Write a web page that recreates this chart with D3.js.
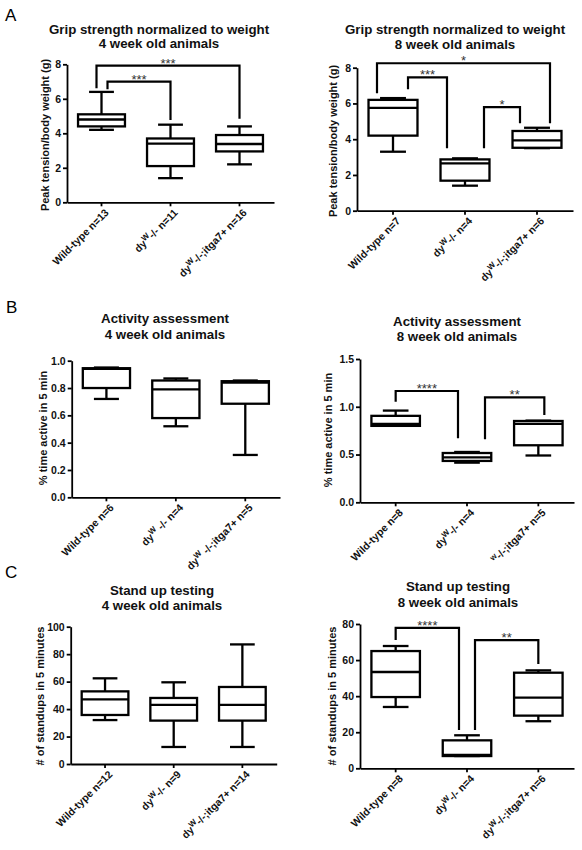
<!DOCTYPE html>
<html>
<head>
<meta charset="utf-8">
<script src="https://cdn.jsdelivr.net/npm/d3@7"></script>
<style>
  html, body { margin: 0; padding: 0; background: #fff; }
  svg { display: block; }
</style>
</head>
<body>
<svg id="chart" width="582" height="850"></svg>
<script>
// ---------------- DATA ----------------
// five-number summaries per group: [min, Q1, median, Q3, max]
const gripWk4Labels = ["Wild-type n=13", "dy^W^-/- n=11", "dy^W^-/-;itga7+ n=16"];
const gripWk4 = [[4.2, 4.4, 4.8, 5.1, 6.4], [1.4, 2.1, 3.4, 3.7, 4.5], [2.2, 2.95, 3.38, 3.9, 4.4]];
const gripWk4Sig = [
  { from: 0, to: 2, y: 7.92, yFrom: 6.61, yTo: 4.85, label: "***" },
  { from: 0, to: 1, y: 6.99, yFrom: 6.55, yTo: 4.77, label: "***" }
];

const gripWk8Labels = ["Wild-type n=7", "dy^W^-/- n=4", "dy^W^-/-;itga7+ n=6"];
const gripWk8 = [[3.3, 4.2, 5.75, 6.2, 6.3], [1.4, 1.68, 2.65, 2.87, 2.93], [3.5, 3.52, 3.93, 4.46, 4.64]];
const gripWk8Sig = [
  { from: 0, to: 2, y: 8.25, yFrom: 6.57, yTo: 4.89, label: "*" },
  { from: 0, to: 1, y: 7.46, yFrom: 6.79, yTo: 3.49, label: "***" },
  { from: 1, to: 2, y: 5.80, yFrom: 3.49, yTo: 4.89, label: "*" }
];
const gripTicks = [0, 2, 4, 6, 8];

const activityWk4Labels = ["Wild-type n=6", "dy^W^ -/- n=4", "dy^W^ -/-;itga7+ n=5"];
const activityWk4 = [[0.72, 0.80, 0.94, 0.945, 0.95], [0.52, 0.58, 0.79, 0.855, 0.87], [0.31, 0.685, 0.84, 0.85, 0.855]];
const activityWk4Ticks = [0, 0.2, 0.4, 0.6, 0.8, 1.0];

const activityWk8Labels = ["Wild-type n=8", "dy^W^-/- n=4", "^w^-/-;itga7+ n=5"];
const activityWk8 = [[0.80, 0.80, 0.82, 0.905, 0.96], [0.415, 0.433, 0.471, 0.516, 0.527], [0.49, 0.597, 0.82, 0.851, 0.855]];
const activityWk8Ticks = [0, 0.5, 1.0, 1.5];
const activityWk8Sig = [
  { from: 0, to: 1, y: 1.165, yFrom: 1.053, yTo: 0.67, label: "****" },
  { from: 1, to: 2, y: 1.099, yFrom: 0.66, yTo: 0.914, label: "**" }
];

const standWk4Labels = ["Wild-type n=12", "dy^W^-/- n=9", "dy^W^-/-;itga7+ n=14"];
const standWk4 = [[32.0, 35.7, 47.1, 52.9, 62.4], [12.4, 31.6, 43.0, 48.1, 59.5], [12.4, 31.6, 43.0, 56.1, 87.1]];
const standWk4Ticks = [0, 20, 40, 60, 80, 100];

const standWk8Labels = ["Wild-type n=8", "dy^W^-/- n=4", "dy^W^-/-;itga7+ n=6"];
const standWk8 = [[34.0, 39.5, 53.4, 65.0, 67.8], [6.8, 6.8, 7.4, 15.5, 18.3], [26.1, 29.2, 39.2, 53.0, 54.3]];
const standWk8Ticks = [0, 20, 40, 60, 80];
const standWk8Sig = [
  { from: 0, to: 1, y: 77.8, yFrom: 71.1, yTo: 21.2, label: "****" },
  { from: 1, to: 2, y: 71.1, yFrom: 21.2, yTo: 57.8, label: "**" }
];

// ---------------- LAYOUT / STYLE ----------------
const FONT = "'Liberation Sans', Arial, Helvetica, sans-serif";
const panels = [
  { letter: "A", letterPos: [5, 21],
    title: ["Grip strength normalized to weight", "4 week old animals"], yLabel: "Peak tension/body weight (g)",
    data: gripWk4, labels: gripWk4Labels, ticks: gripTicks, fmt: d3.format("d"), sig: gripWk4Sig,
    x0: 67, x1: 274, yTop: 64.3, yBot: 202.3, titleX: 159, titleY: [33.5, 48], ylabX: 45, ylabY: 135,
    legDx: [[-5, 0], [6, 0]] },
  { title: ["Grip strength normalized to weight", "8 week old animals"], yLabel: "Peak tension/body weight (g)",
    data: gripWk8, labels: gripWk8Labels, ticks: gripTicks, fmt: d3.format("d"), sig: gripWk8Sig,
    x0: 357, x1: 573, yTop: 67.7, yBot: 210.7, titleX: 455, titleY: [33.5, 48.5], ylabX: 333, ylabY: 141,
    legDx: [[-16, 13], [15, -18], [19, -17]] },
  { letter: "B", letterPos: [6, 313],
    title: ["Activity assessment", "4 week old animals"], yLabel: "% time active in 5 min",
    data: activityWk4, labels: activityWk4Labels, ticks: activityWk4Ticks, fmt: d3.format(".1f"), sig: [],
    x0: 71.7, x1: 280, yTop: 360.7, yBot: 497.3, titleX: 165, titleY: [322.5, 338.5], ylabX: 43, ylabY: 428, legDx: [] },
  { title: ["Activity assessment", "8 week old animals"], yLabel: "% time active in 5 min",
    data: activityWk8, labels: activityWk8Labels, ticks: activityWk8Ticks, fmt: d3.format(".1f"), sig: activityWk8Sig,
    x0: 360, x1: 574, yTop: 359, yBot: 502.3, titleX: 457, titleY: [325.5, 340.5], ylabX: 328, ylabY: 430,
    legDx: [[0, -9], [18, 6]] },
  { letter: "C", letterPos: [5, 578],
    title: ["Stand up testing", "4 week old animals"], yLabel: "# of standups in 5 minutes",
    data: standWk4, labels: standWk4Labels, ticks: standWk4Ticks, fmt: d3.format("d"), sig: [],
    x0: 70.7, x1: 276.7, yTop: 626.7, yBot: 764, titleX: 162, titleY: [594.5, 609.5], ylabX: 40, ylabY: 696, legDx: [] },
  { title: ["Stand up testing", "8 week old animals"], yLabel: "# of standups in 5 minutes",
    data: standWk8, labels: standWk8Labels, ticks: standWk8Ticks, fmt: d3.format("d"), sig: standWk8Sig,
    x0: 360, x1: 574, yTop: 624, yBot: 768.3, titleX: 458, titleY: [590.5, 606.5], ylabX: 332, ylabY: 696,
    legDx: [[0, -8], [8, 0]] }
];

const svg = d3.select("#chart");
svg.append("rect").attr("width", 582).attr("height", 850).attr("fill", "#fff");

function addLabelText(sel, str) {
  // "^X^" marks superscript
  const parts = str.split("^");
  parts.forEach((p, i) => {
    if (p === "") return;
    const sup = i % 2 === 1;
    const prevSup = i > 0 && (i - 1) % 2 === 1;
    const t = sel.append("tspan").text(p);
    if (sup) t.attr("dy", -4).attr("font-size", 8);
    else if (prevSup && parts[i - 1] !== "") t.attr("dy", 4);
  });
}

panels.forEach(P => {
  const g = svg.append("g");
  const n = P.data.length;
  const yMax = P.ticks[P.ticks.length - 1];
  const x = d3.scaleBand().domain(d3.range(n)).range([P.x0, P.x1]).padding(0);
  const y = d3.scaleLinear().domain([0, yMax]).range([P.yBot, P.yTop]);
  const cx = i => x(i) + x.bandwidth() / 2;
  const boxW = x.bandwidth() * 0.68;
  const capW = x.bandwidth() * 0.36;

  if (P.letter) {
    svg.append("text").attr("x", P.letterPos[0]).attr("y", P.letterPos[1])
      .attr("font-family", FONT).attr("font-size", 17).attr("fill", "#000").text(P.letter);
  }

  // title
  P.title.forEach((t, i) => {
    g.append("text").attr("x", P.titleX).attr("y", P.titleY[i]).attr("text-anchor", "middle")
      .attr("font-family", FONT).attr("font-weight", "bold").attr("font-size", 13.3).attr("fill", "#111").text(t);
  });

  // y label
  g.append("text").attr("transform", `translate(${P.ylabX},${P.ylabY}) rotate(-90)`)
    .attr("text-anchor", "middle").attr("dy", "0.35em")
    .attr("font-family", FONT).attr("font-weight", "bold").attr("font-size", 11).attr("fill", "#111").text(P.yLabel);

  // y axis
  const ya = g.append("g").attr("transform", `translate(${P.x0},0)`)
    .call(d3.axisLeft(y).tickValues(P.ticks).tickFormat(P.fmt).tickSize(4).tickSizeOuter(0).tickPadding(2));
  ya.select(".domain").attr("stroke", "#000").attr("stroke-width", 1.8);
  ya.selectAll(".tick line").attr("stroke", "#000").attr("stroke-width", 1.8);
  ya.selectAll(".tick text").attr("font-family", FONT).attr("font-weight", "bold").attr("font-size", 10.5).attr("fill", "#111");

  // x axis
  const xa = g.append("g").attr("transform", `translate(0,${P.yBot})`)
    .call(d3.axisBottom(x).tickFormat("").tickSize(4).tickSizeOuter(0));
  xa.select(".domain").attr("stroke", "#000").attr("stroke-width", 1.8);
  xa.selectAll(".tick line").attr("stroke", "#000").attr("stroke-width", 1.8);

  // category labels
  P.labels.forEach((lab, i) => {
    const t = g.append("text")
      .attr("transform", `translate(${cx(i) + 8},${P.yBot + 11}) rotate(-45)`)
      .attr("text-anchor", "end")
      .attr("font-family", FONT).attr("font-weight", "bold").attr("font-size", 10.5).attr("fill", "#111");
    addLabelText(t, lab);
  });

  // boxes
  const sw = 2.3;
  P.data.forEach((d, i) => {
    const [mn, q1, md, q3, mx] = d;
    const c = cx(i);
    const bg = g.append("g").attr("stroke", "#000").attr("stroke-width", sw).attr("fill", "none");
    bg.append("line").attr("x1", c).attr("x2", c).attr("y1", y(q3)).attr("y2", y(mx));
    bg.append("line").attr("x1", c).attr("x2", c).attr("y1", y(q1)).attr("y2", y(mn));
    bg.append("line").attr("x1", c - capW / 2).attr("x2", c + capW / 2).attr("y1", y(mx)).attr("y2", y(mx));
    bg.append("line").attr("x1", c - capW / 2).attr("x2", c + capW / 2).attr("y1", y(mn)).attr("y2", y(mn));
    bg.append("rect").attr("x", c - boxW / 2).attr("width", boxW)
      .attr("y", y(q3)).attr("height", y(q1) - y(q3)).attr("fill", "#fff");
    bg.append("line").attr("x1", c - boxW / 2).attr("x2", c + boxW / 2).attr("y1", y(md)).attr("y2", y(md));
  });

  // significance brackets
  P.sig.forEach((s, k) => {
    const dx = P.legDx[k] || [0, 0];
    const xa1 = cx(s.from) + dx[0], xb1 = cx(s.to) + dx[1];
    g.append("path")
      .attr("d", `M${xa1},${y(s.yFrom)} V${y(s.y)} H${xb1} V${y(s.yTo)}`)
      .attr("fill", "none").attr("stroke", "#000").attr("stroke-width", 2.2);
    g.append("text").attr("x", (xa1 + xb1) / 2).attr("y", y(s.y) + 2).attr("text-anchor", "middle")
      .attr("font-family", FONT).attr("font-size", 13).attr("fill", "#333").text(s.label);
  });
});
</script>
</body>
</html>
